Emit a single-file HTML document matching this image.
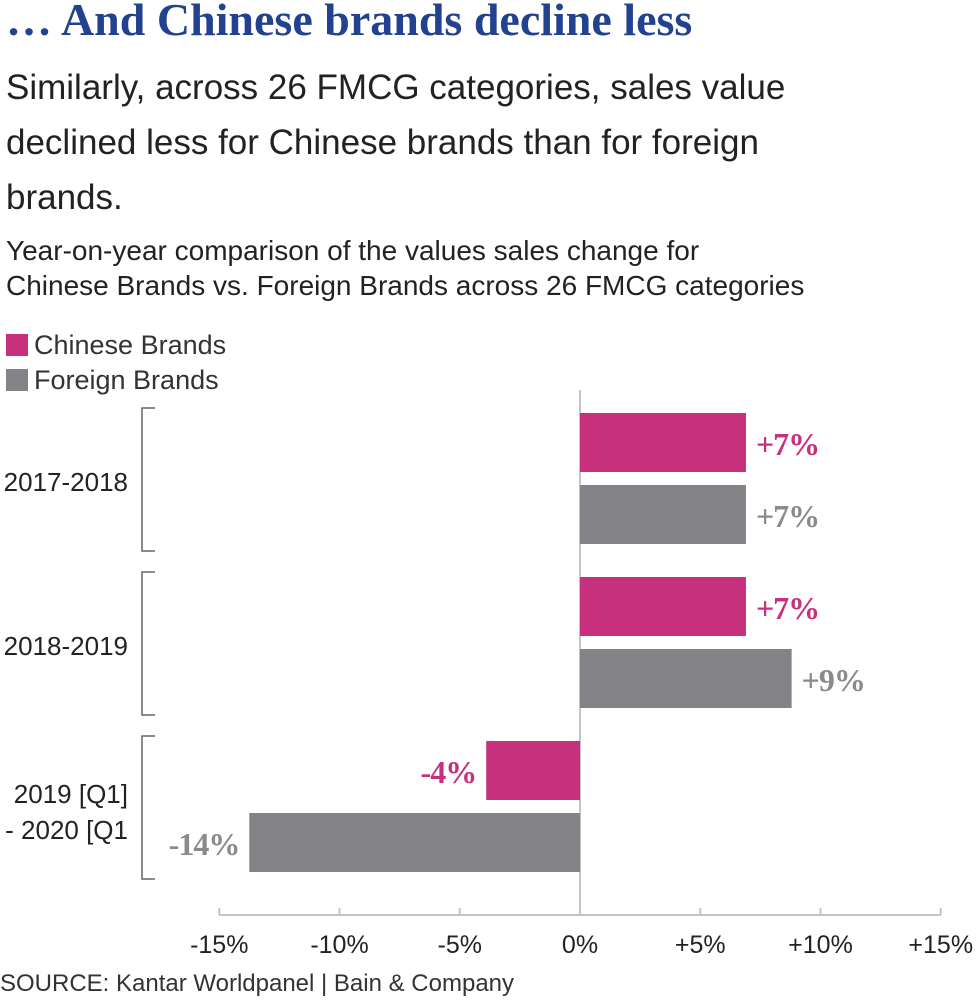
<!DOCTYPE html>
<html><head><meta charset="utf-8"><style>
body{margin:0;background:#fff;width:976px;height:1001px;overflow:hidden;font-family:"Liberation Sans",sans-serif;}
.t{position:absolute;white-space:nowrap;color:#222;}
</style></head><body>
<div class="t" style="left:6px;top:-7px;font-family:'Liberation Serif',serif;font-weight:bold;font-size:46px;letter-spacing:0px;color:#22418f;">… And Chinese brands decline less</div>
<div class="t" style="left:6px;top:60px;font-size:35px;line-height:55px;color:#222;">Similarly, across 26 FMCG categories, sales value<br>declined less for Chinese brands than for foreign<br>brands.</div>
<div class="t" style="left:6px;top:233px;font-size:28px;line-height:35px;">Year-on-year comparison of the values sales change for<br>Chinese Brands vs. Foreign Brands across 26 FMCG categories</div>
<div class="t" style="left:6px;top:330px;font-size:27px;color:#333;"><span style="display:inline-block;width:22px;height:22px;background:#c7307c;vertical-align:-2px;margin-right:6px"></span>Chinese Brands</div>
<div class="t" style="left:6px;top:365px;font-size:27px;color:#333;"><span style="display:inline-block;width:22px;height:22px;background:#838387;vertical-align:-2px;margin-right:6px"></span>Foreign Brands</div>
<svg id="chart" width="976" height="1001" style="position:absolute;left:0;top:0"></svg>
<div class="t" style="left:0;top:970px;font-size:24px;color:#333;">SOURCE: Kantar Worldpanel | Bain &amp; Company</div>
<script>
const categories=["2017-2018","2018-2019","2019 [Q1] - 2020 [Q1"];
const chinese=[6.9,6.9,-3.9];
const foreign=[6.9,8.8,-13.75];
const chineseLabels=["+7%","+7%","-4%"];
const foreignLabels=["+7%","+9%","-14%"];
const ticks=[-15,-10,-5,0,5,10,15];
const tickLabels=["-15%","-10%","-5%","0%","+5%","+10%","+15%"];
const svg=document.getElementById('chart');
const NS='http://www.w3.org/2000/svg';
const x=v=>580+v*24.05;
const gTop=c=>408+c*164;
function mk(t,a){const e=document.createElementNS(NS,t);for(const k in a)e.setAttribute(k,a[k]);svg.appendChild(e);return e;}
let ax=mk('line',{x1:x(-15),x2:x(15),y1:915,y2:915,stroke:'#c4c4c8','stroke-width':2});

let zl=mk('line',{x1:580,x2:580,y1:390,y2:915,stroke:'#c4c4c8','stroke-width':2});

ticks.forEach((t,i)=>{
 let l=mk('line',{x1:x(t),x2:x(t),y1:908,y2:915,stroke:'#c4c4c8','stroke-width':2});
 
 let tx=mk('text',{x:x(t),y:953,'text-anchor':'middle','font-size':25,fill:'#222','font-family':'Liberation Sans, sans-serif'});
 tx.textContent=tickLabels[i];
 
});
categories.forEach((c,i)=>{
 const top=gTop(i);
 let br=mk('path',{d:`M155 ${top}H142V${top+143}H155`,fill:'none',stroke:'#666','stroke-width':1.5});
 
 if(i<2){
  let tx=mk('text',{x:128,y:top+83,'text-anchor':'end','font-size':26,fill:'#222','font-family':'Liberation Sans, sans-serif'});
  tx.textContent=c;
 }else{
  const parts=["2019 [Q1]","- 2020 [Q1"];
  parts.forEach((p,j)=>{let tx=mk('text',{x:128,y:top+67+j*36,'text-anchor':'end','font-size':26,fill:'#222','font-family':'Liberation Sans, sans-serif'});
  tx.textContent=p;});
 }
 [[chinese[i],chineseLabels[i],'#c7307c',top+5,'bar-chinese'],[foreign[i],foreignLabels[i],'#838387',top+77,'bar-foreign']].forEach(([v,lab,col,y,nm])=>{
  let r=mk('rect',{x:Math.min(x(0),x(v)),y:y,width:Math.abs(x(v)-x(0)),height:59,fill:col});
  
  const pos=v>=0;
  let tx=mk('text',{x:pos?x(v)+10:x(v)-10,y:y+42,'text-anchor':pos?'start':'end','font-size':32,'font-weight':'bold','letter-spacing':'-1',fill:col==='#838387'?'#8a8a8e':col,'font-family':'Liberation Serif, serif'});
  tx.textContent=lab;
 });
});
</script>
</body></html>
